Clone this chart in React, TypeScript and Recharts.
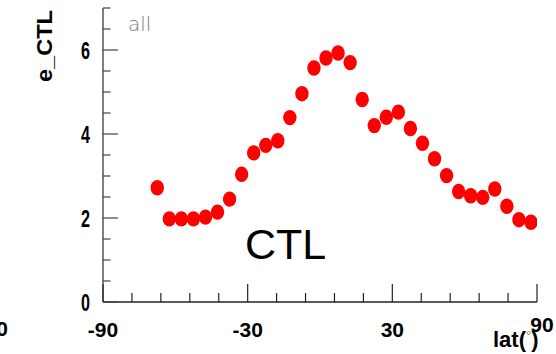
import { ScatterChart, Scatter, XAxis, YAxis } from "recharts";

// latitude bin centres (deg) and e_CTL values
const lats = [
  -67.5, -62.5, -57.5, -52.5, -47.5, -42.5, -37.5, -32.5, -27.5, -22.5, -17.5,
  -12.5, -7.5, -2.5, 2.5, 7.5, 12.5, 17.5, 22.5, 27.5, 32.5, 37.5, 42.5, 47.5,
  52.5, 57.5, 62.5, 67.5, 72.5, 77.5, 82.5, 87.5,
];
const eCTL = [
  2.72, 1.98, 1.98, 1.98, 2.02, 2.14, 2.45, 3.04, 3.55, 3.73, 3.84, 4.39, 4.96,
  5.57, 5.81, 5.93, 5.7, 4.82, 4.2, 4.4, 4.52, 4.13, 3.78, 3.41, 3.01, 2.63,
  2.53, 2.49, 2.69, 2.28, 1.96, 1.9,
];

const xTicks = [-90, -78, -66, -54, -42, -30, -18, -6, 6, 18, 30, 42, 54, 66, 78, 90];
const xMajor = [-90, -30, 30, 90];
const yTicks = [0, 0.5, 1, 1.5, 2, 2.5, 3, 3.5, 4, 4.5, 5, 5.5, 6, 6.5, 7];
const yMajor = [0, 2, 4, 6];

const data = lats.map((lat, i) => ({ lat, v: eCTL[i] }));

const FONT = "'Liberation Sans', Arial, Helvetica, sans-serif";

function XTick(props: any) {
  const { x, y, payload } = props;
  const v = payload.value as number;
  const major = xMajor.includes(v);
  const last = v === 90;
  return (
    <g>
      <line x1={x} y1={y} x2={x} y2={y - (major ? 18 : 9)} stroke="#222" strokeWidth={1.2} />
      {major && (
        <text
          x={x + (last ? 5 : 0)}
          y={y + (last ? 30 : 35)}
          textAnchor="middle"
          fontFamily={FONT}
          fontWeight="bold"
          fontSize={21}
          fill="#000"
        >
          {v}
        </text>
      )}
    </g>
  );
}

function YTick(props: any) {
  const { x, y, payload } = props;
  const v = payload.value as number;
  const major = yMajor.includes(v);
  return (
    <g>
      <line x1={x} y1={y} x2={x + (major ? 15 : 7.5)} y2={y} stroke="#444" strokeWidth={1.2} />
      {major && (
        <text
          x={x - 13}
          y={y + 8.5}
          textAnchor="end"
          fontFamily={FONT}
          fontWeight="bold"
          fontSize={23}
          textLength={9}
          lengthAdjust="spacingAndGlyphs"
          fill="#000"
        >
          {v}
        </text>
      )}
    </g>
  );
}

function Dot(props: any) {
  const { cx, cy } = props;
  if (cx == null || cy == null) return <g />;
  return <ellipse cx={cx} cy={cy} rx={6.7} ry={7.7} fill="#ff0000" />;
}

export default function App() {
  return (
    <div style={{ position: "absolute", left: 0, top: 0, width: 556, height: 354, background: "#fff" }}>
      <ScatterChart width={556} height={354} margin={{ top: 8, right: 19, bottom: 0, left: 0 }}>
        <XAxis
          dataKey="lat"
          type="number"
          domain={[-90, 90]}
          ticks={xTicks}
          interval={0}
          height={52}
          tickSize={0}
          tickMargin={0}
          tickLine={false}
          axisLine={{ stroke: "#222", strokeWidth: 1.5 }}
          tick={<XTick />}
          allowDataOverflow
        />
        <XAxis
          xAxisId="top"
          orientation="top"
          type="number"
          domain={[-90, 90]}
          height={0}
          tick={false}
          tickLine={false}
          axisLine={{ stroke: "#666", strokeWidth: 1.5 }}
        />
        <YAxis
          dataKey="v"
          type="number"
          domain={[0, 7]}
          ticks={yTicks}
          interval={0}
          width={103}
          tickSize={0}
          tickMargin={0}
          tickLine={false}
          axisLine={{ stroke: "#555", strokeWidth: 1.5 }}
          tick={<YTick />}
          allowDataOverflow
        />
        <YAxis
          yAxisId="right"
          orientation="right"
          type="number"
          domain={[0, 7]}
          width={0}
          tick={false}
          tickLine={false}
          axisLine={{ stroke: "#666", strokeWidth: 1.5 }}
        />
        <Scatter data={data} shape={<Dot />} isAnimationActive={false} />
        <text
          x={0}
          y={0}
          transform="translate(52,46) rotate(-90)"
          textAnchor="middle"
          fontFamily={FONT}
          fontWeight="bold"
          fontSize={22}
          textLength={72}
          lengthAdjust="spacingAndGlyphs"
          fill="#000"
        >
          e_CTL
        </text>
        <text x={128} y={31} fontFamily="'DejaVu Sans', sans-serif" fontWeight={200} fontSize={20} fill="#777">
          all
        </text>
        <text x={285.5} y={259} textAnchor="middle" fontFamily={FONT} fontSize={43} fill="#000">
          CTL
        </text>
        <text x={8} y={336} textAnchor="end" fontFamily={FONT} fontWeight="bold" fontSize={21} fill="#000">
          0
        </text>
        <text x={493} y={347} fontFamily={FONT} fontWeight="bold" fontSize={22} fill="#000">
          lat(
          <tspan fontSize={13} fontWeight="normal" fill="#777" dy={-7}>
            °
          </tspan>
          <tspan dy={7}>)</tspan>
        </text>
      </ScatterChart>
    </div>
  );
}
